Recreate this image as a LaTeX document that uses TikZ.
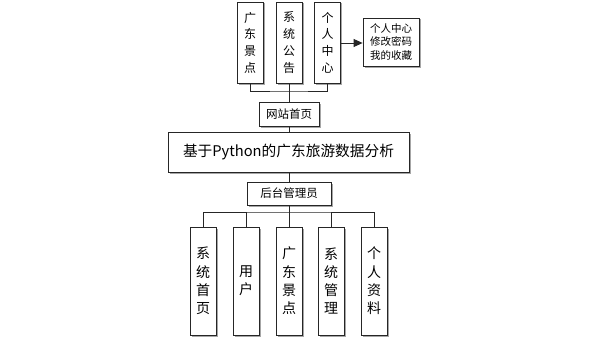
\documentclass[tikz,border=0pt]{standalone}
\usepackage{fontspec}
\newfontfamily\cjk{Noto Sans CJK SC}
\usetikzlibrary{arrows.meta,shadows}
\tikzset{
  box/.style={draw=black!85, line width=0.8pt, fill=white, inner sep=0pt, align=center,
    drop shadow={shadow xshift=1.5pt, shadow yshift=-1.5pt, fill=black!35, opacity=1}},
  vtop/.style={box, minimum width=26pt, minimum height=81pt, font=\cjk\fontsize{12}{16.7}\selectfont},
  vbot/.style={box, minimum width=26pt, minimum height=108pt, font=\cjk\fontsize{14}{18.3}\selectfont},
  conn/.style={line width=0.8pt, draw=black!85},
}
\begin{document}
\begin{tikzpicture}[x=1pt,y=-1pt]
\useasboundingbox (0,0) rectangle (599,337);
% top
\node[vtop] (t1) at (250,42.5) {广\\东\\景\\点};
\node[vtop] (t2) at (289,42.5) {系\\统\\公\\告};
\node[vtop] (t3) at (327.5,42.5) {个\\人\\中\\心};
\node[box, minimum width=56pt, minimum height=48pt, font=\cjk\fontsize{10.5}{13.5}\selectfont] (pc) at (391,42) {个人中心\\修改密码\\我的收藏};
\draw[conn, -{Triangle[length=9pt,width=8pt]}] (t3.east |- 0,43) -- (pc.west |- 0,43);
\node[box, minimum width=60pt, minimum height=24pt, font=\cjk\fontsize{11.5}{14}\selectfont] (web) at (289,114) {网站首页};
\coordinate (tb) at (289,91);
\draw[conn] (t1.south) |- (tb) -| (t3.south);
\draw[conn] (t2.south) -- (tb);
\draw[conn] (tb) -- (web.north);
% main
\node[box, minimum width=241pt, minimum height=40pt, font=\cjk\fontsize{14.7}{18}\selectfont] (main) at (288.5,152) {基于Python的广东旅游数据分析};
\draw[conn] (web.south) -- (web.south |- main.north);
\node[box, minimum width=84pt, minimum height=23pt, font=\cjk\fontsize{11.5}{14}\selectfont] (adm) at (289,193.5) {后台管理员};
\draw[conn] (adm.north |- main.south) -- (adm.north);
% bottom
\node[vbot] (b1) at (203,281) {系\\统\\首\\页};
\node[vbot] (b2) at (246,281) {用\\户};
\node[vbot] (b3) at (289,281) {广\\东\\景\\点};
\node[vbot] (b4) at (331,281) {系\\统\\管\\理};
\node[vbot] (b5) at (374,281) {个\\人\\资\\料};
\coordinate (bb) at (289,212);
\draw[conn] (adm.south) -- (bb);
\draw[conn] (b1.north) |- (bb) -| (b5.north);
\draw[conn] (b2.north) -- (b2.north |- bb);
\draw[conn] (b3.north) -- (bb);
\draw[conn] (b4.north) -- (b4.north |- bb);
\end{tikzpicture}
\end{document}
